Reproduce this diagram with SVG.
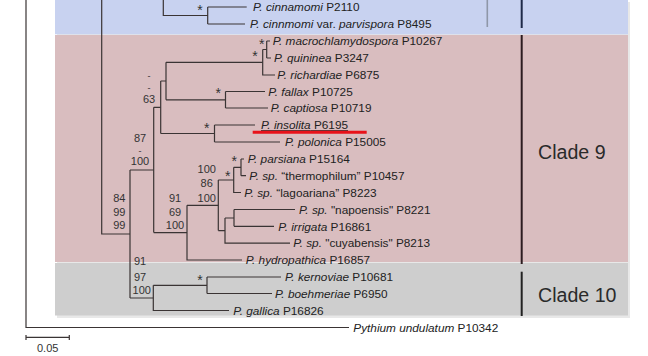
<svg xmlns="http://www.w3.org/2000/svg" width="648" height="356" viewBox="0 0 648 356">
<style>
.tx{font-family:"Liberation Sans",Arial,sans-serif;font-size:11.8px;fill:#222}
.it{font-style:italic}
.bs{font-family:"Liberation Sans",Arial,sans-serif;font-size:11px;fill:#333;text-anchor:middle}
.dash{font-size:9px}
.st{font-family:"Liberation Sans",Arial,sans-serif;font-size:14px;fill:#333;text-anchor:middle}
.cl{font-family:"Liberation Sans",Arial,sans-serif;font-size:19.6px;fill:#2a2a2a}
.br{fill:none;stroke:#3a3434;stroke-width:1.2}
</style>
<defs>
<filter id="sh" x="-10%" y="-50%" width="120%" height="300%"><feGaussianBlur stdDeviation="1.2"/></filter>
</defs>
<rect width="648" height="356" fill="#ffffff"/>
<g id="bands">
<rect x="57" y="2" width="573" height="316" fill="#e8e8e8"/>
<rect x="55" y="0" width="573" height="34.3" fill="#c8d2f0"/>
<rect x="55" y="35" width="573" height="227" fill="#d9bdbf"/>
<rect x="55" y="263" width="573" height="52.5" fill="#cecece"/>
</g>
<g id="clade-bars">
<line x1="487.3" y1="0" x2="487.3" y2="27" stroke="#8f97a8" stroke-width="1.6"/>
<line x1="521.7" y1="0" x2="521.7" y2="28" stroke="#1f2a48" stroke-width="2"/>
<line x1="521.7" y1="35" x2="521.7" y2="264" stroke="#2c1c20" stroke-width="2"/>
<line x1="521.7" y1="271.7" x2="521.7" y2="316" stroke="#222" stroke-width="2"/>
</g>
<g id="clade9"><text class="cl" x="538" y="158.7">Clade 9</text></g>
<g id="clade10"><text class="cl" x="538" y="302">Clade 10</text></g>
<g id="connectors">
<path class="br" d="M26,-2V327.5H349"/>
<path class="br" d="M101.7,-2V234H130"/>
<path class="br" d="M163.3,-2V15.5H207.7M207.7,7V24M207.7,7H246.7M207.7,24H245"/>
<path class="br" d="M130,170V298M130,170H153.7M130,298H153.3"/>
<path class="br" d="M153.7,107.3V232.6M153.7,107.3H160.7M153.7,232.6H187"/>
<path class="br" d="M160.7,81V133.5M160.7,81H166M160.7,133.5H214.5"/>
<path class="br" d="M166,62.3V99.8M166,62.3H262.7M166,99.8H225.5"/>
<path class="br" d="M262.7,49.5V75H275M262.7,49.5H266.7M266.7,41V58M266.7,41H270M266.7,58H271"/>
<path class="br" d="M225.5,91.5V108M225.5,91.5H265M225.5,108H268"/>
<path class="br" d="M214.5,125V142M214.5,125H255M214.5,142H280"/>
<path class="br" d="M187,205.3V260H242M187,205.3H218.3"/>
<path class="br" d="M218.3,180V230.6M218.3,180H233.7M218.3,230.6H225"/>
<path class="br" d="M233.7,167.3V192.5H241M233.7,167.3H241M241,159V175.7M241,159H244M241,175.7H246"/>
<path class="br" d="M225,218V243.2H290M225,218H234M234,209.5V226.3M234,209.5H295M234,226.3H274"/>
<path class="br" d="M153.3,285.3V310.5H229M153.3,285.3H207M207,277V293.5M207,277H281M207,293.5H272"/>
<path class="br" d="M26,337.3H69.3M26,335V340M69.3,335V340"/>
</g>
<g id="support">
<text class="st" x="200" y="14.8">*</text>
<text class="st" x="261.7" y="48.7">*</text>
<text class="st" x="255" y="61.3">*</text>
<text class="st" x="218.3" y="98">*</text>
<text class="st" x="206.7" y="133">*</text>
<text class="st" x="234.3" y="166.3">*</text>
<text class="st" x="227.7" y="180.7">*</text>
<text class="st" x="200" y="284.7">*</text>
<text class="bs" x="149" y="79.2"><tspan class="dash" x="149">-</tspan><tspan class="dash" x="149" dy="11.6">-</tspan><tspan x="149" dy="12.2">63</tspan></text>
<text class="bs" x="140" y="142.3"><tspan x="140">87</tspan><tspan class="dash" x="140" dy="11.2">-</tspan><tspan x="140" dy="11.2">100</tspan></text>
<text class="bs" x="119.3" y="202.3"><tspan x="119.3">84</tspan><tspan x="119.3" dy="13.4">99</tspan><tspan x="119.3" dy="13.3">99</tspan></text>
<text class="bs" x="175" y="202.3"><tspan x="175">91</tspan><tspan x="175" dy="13.4">69</tspan><tspan x="175" dy="13.3">100</tspan></text>
<text class="bs" x="206.7" y="173.3"><tspan x="206.7">100</tspan><tspan x="206.7" dy="14">86</tspan><tspan x="206.7" dy="15">100</tspan></text>
<text class="bs" x="140" y="265"><tspan x="140">91</tspan><tspan x="140" dy="15.7">97</tspan><tspan x="141.7" dy="13.3">100</tspan></text>
</g>
<g id="t1"><text class="tx" x="253" y="11.2"><tspan class="it">P. cinnamomi</tspan> P2110</text></g>
<g id="t2"><text class="tx" x="250" y="28.1"><tspan class="it">P. cinnmomi</tspan> var. <tspan class="it">parvispora</tspan> P8495</text></g>
<g id="t3"><text class="tx" x="272.7" y="45.2"><tspan class="it">P. macrochlamydospora</tspan> P10267</text></g>
<g id="t4"><text class="tx" x="274" y="62.2"><tspan class="it">P. quininea</tspan> P3247</text></g>
<g id="t5"><text class="tx" x="277.3" y="79.2"><tspan class="it">P. richardiae</tspan> P6875</text></g>
<g id="t6"><text class="tx" x="268.3" y="95.7"><tspan class="it">P. fallax</tspan> P10725</text></g>
<g id="t7"><text class="tx" x="270.7" y="112.2"><tspan class="it">P. captiosa</tspan> P10719</text></g>
<g id="t8">
<line x1="254" y1="136" x2="366" y2="136" stroke="#888" stroke-width="3" filter="url(#sh)" opacity="0.7"/>
<text class="tx" x="261" y="129.2" text-decoration="underline"><tspan class="it">P. insolita</tspan> P6195</text>
<line x1="252.7" y1="132.3" x2="366.7" y2="132.3" stroke="#e8121a" stroke-width="3"/>
</g>
<g id="t9"><text class="tx" x="285" y="146.2"><tspan class="it">P. polonica</tspan> P15005</text></g>
<g id="t10"><text class="tx" x="247.7" y="163.2"><tspan class="it">P. parsiana</tspan> P15164</text></g>
<g id="t11"><text class="tx" x="249.3" y="179.9"><tspan class="it">P. sp.</tspan> “thermophilum” P10457</text></g>
<g id="t12"><text class="tx" x="244.3" y="196.7"><tspan class="it">P. sp.</tspan> “lagoariana” P8223</text></g>
<g id="t13"><text class="tx" x="299" y="213.7"><tspan class="it">P. sp.</tspan> "napoensis" P8221</text></g>
<g id="t14"><text class="tx" x="278.3" y="230.5"><tspan class="it">P. irrigata</tspan> P16861</text></g>
<g id="t15"><text class="tx" x="293.3" y="247.4"><tspan class="it">P. sp.</tspan> "cuyabensis" P8213</text></g>
<g id="t16"><text class="tx" x="245.7" y="264.2"><tspan class="it">P. hydropathica</tspan> P16857</text></g>
<g id="t17"><text class="tx" x="285" y="281.2"><tspan class="it">P. kernoviae</tspan> P10681</text></g>
<g id="t18"><text class="tx" x="275" y="297.7"><tspan class="it">P. boehmeriae</tspan> P6950</text></g>
<g id="t19"><text class="tx" x="233.3" y="314.7"><tspan class="it">P. gallica</tspan> P16826</text></g>
<g id="t20"><text class="tx" x="353.3" y="331.7"><tspan class="it">Pythium undulatum</tspan> P10342</text></g>
<g id="scale"><text class="bs" x="47.7" y="352.3">0.05</text></g>
</svg>
